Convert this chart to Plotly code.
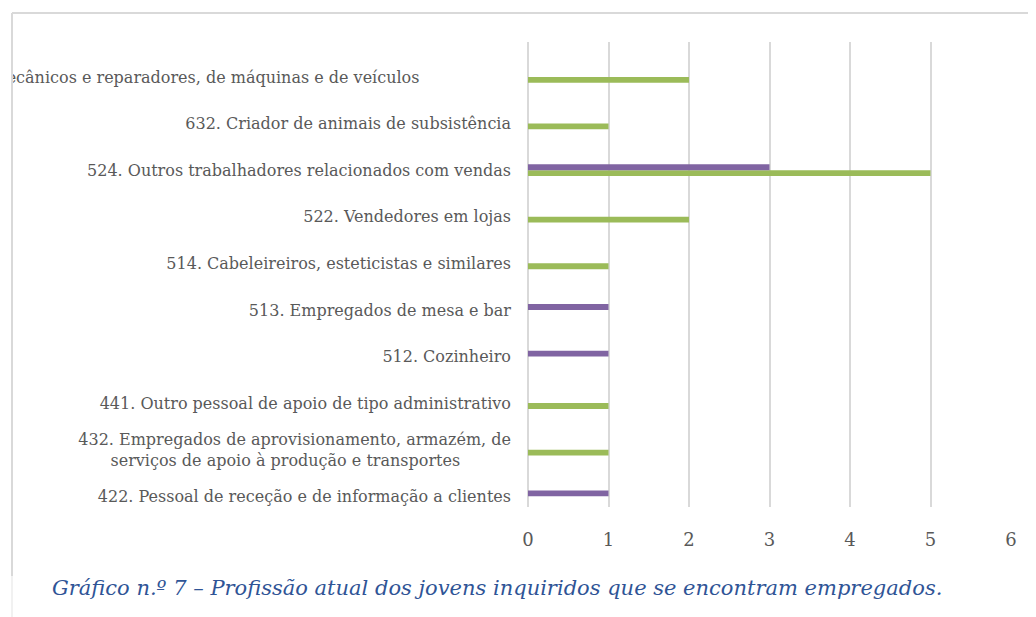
import plotly.graph_objects as go

categories = [
    "422. Pessoal de receção e de informação a clientes",
    "432. Empregados de aprovisionamento, armazém, de<br>serviços de apoio à produção e transportes" + "\u00a0" * 10,
    "441. Outro pessoal de apoio de tipo administrativo",
    "512. Cozinheiro",
    "513. Empregados de mesa e bar",
    "514. Cabeleireiros, esteticistas e similares",
    "522. Vendedores em lojas",
    "524. Outros trabalhadores relacionados com vendas",
    "632. Criador de animais de subsistência",
    "723. Mecânicos e reparadores, de máquinas e de veículos" + "\u00a0" * 18,
]
purple_values = [1, None, None, 1, 1, None, None, 3, None, None]
green_values = [None, 1, 1, None, None, 1, 2, 5, 1, 2]
x_ticks = [0, 1, 2, 3, 4, 5, 6]

PURPLE = "#8064A2"
GREEN = "#9BBB59"
GRID = "#D9D9D9"
TXT = "#595959"
SERIF = "DejaVu Serif"

fig = go.Figure()
fig.add_trace(go.Bar(y=list(range(len(categories))), x=green_values, orientation="h",
                     marker=dict(color=GREEN, line=dict(width=0)), showlegend=False))
fig.add_trace(go.Bar(y=list(range(len(categories))), x=purple_values, orientation="h",
                     marker=dict(color=PURPLE, line=dict(width=0)), showlegend=False))

OFF = 8  # browser body margin
W, H = 1036 - OFF, 617 - OFF
L, R, T, B = 528 - OFF, 25, 42 - OFF, 617 - 507
pw, ph = W - L - R, H - T - B

def px_x(p):  # page pixel -> paper
    return (p - OFF - L) / pw

def px_y(p):
    return (H - B - (p - OFF)) / ph

fig.update_layout(
    width=W, height=H,
    margin=dict(l=L, r=R, t=T, b=B, autoexpand=False),
    paper_bgcolor="white", plot_bgcolor="white",
    barmode="group", bargap=0.75, bargroupgap=0,
    xaxis=dict(range=[0, 6], tickvals=x_ticks, showgrid=True, gridcolor=GRID, gridwidth=2,
               zeroline=True, zerolinecolor=GRID, zerolinewidth=2, showline=False, ticks="",
               ticklabelstandoff=20, layer="below traces",
               tickfont=dict(family=SERIF, size=18, color=TXT), fixedrange=True),
    yaxis=dict(range=[-0.23, 9.75], tickvals=list(range(len(categories))), ticktext=categories,
               showgrid=False, zeroline=False, showline=False, ticks="", ticklabelstandoff=16,
               tickfont=dict(family=SERIF, size=16, color=TXT), fixedrange=True, automargin=False),
    font=dict(family=SERIF),
    shapes=[
        dict(type="rect", xref="paper", yref="paper", x0=px_x(0), x1=px_x(11), y0=px_y(0), y1=px_y(630),
             fillcolor="white", line=dict(width=0), layer="above"),
        dict(type="line", xref="paper", yref="paper", x0=px_x(12), x1=px_x(1050), y0=px_y(13), y1=px_y(13),
             line=dict(color=GRID, width=2), layer="above"),
        dict(type="line", xref="paper", yref="paper", x0=px_x(12), x1=px_x(12), y0=px_y(13), y1=px_y(576),
             line=dict(color=GRID, width=2), layer="above"),
        dict(type="line", xref="paper", yref="paper", x0=px_x(12), x1=px_x(12), y0=px_y(576), y1=px_y(630),
             line=dict(color="#EDEDED", width=1.5), layer="above"),
    ],
    annotations=[
        dict(text="<i>Gráfico n.º 7 – Profissão atual dos jovens inquiridos que se encontram empregados.</i>",
             xref="paper", yref="paper", x=px_x(50), y=px_y(588), xanchor="left", yanchor="middle",
             showarrow=False, font=dict(family=SERIF, size=21, color="#2F5496")),
    ],
)

fig.write_html("out.html")
